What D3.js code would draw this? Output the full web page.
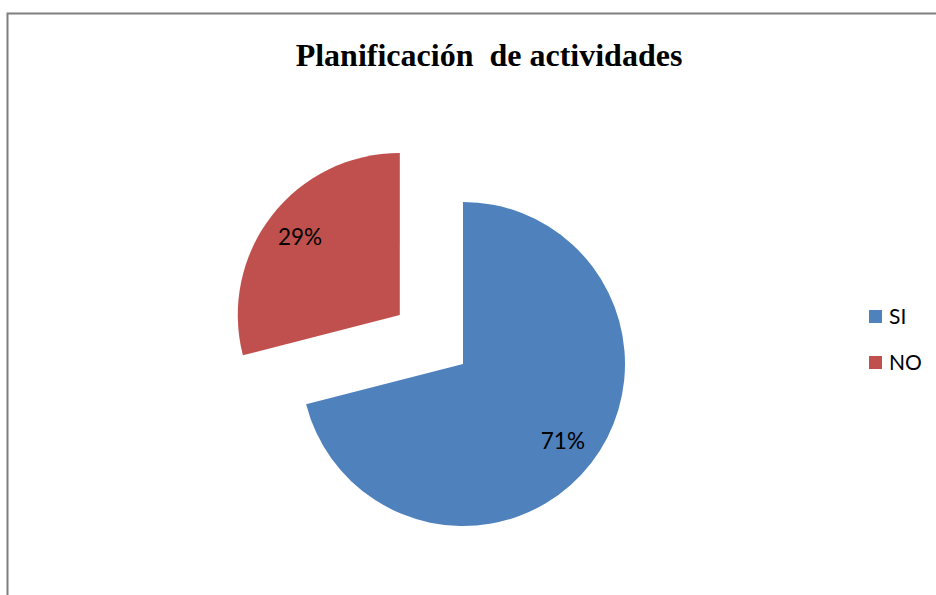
<!DOCTYPE html>
<html>
<head>
<meta charset="utf-8">
<script src="https://cdn.jsdelivr.net/npm/d3@7"></script>
<style>
	body { margin: 0; background: #fff; }
</style>
</head>
<body>
<div id="chart"></div>
<script>
const categories = ["SI", "NO"];
const values = [71, 29];
const colors = ["#4F81BD", "#C0504D"];
const exploded = [0, 1];

const width = 936,
	height = 595;

const center = { x: 463, y: 364 },
	radius = 162,
	explodeDist = 80;

const svg = d3
	.select("#chart")
	.append("svg")
	.attr("width", width)
	.attr("height", height);

// chart frame (runs off the right and bottom of the picture)
svg
	.append("rect")
	.attr("x", 7.5)
	.attr("y", 13.5)
	.attr("width", width + 20)
	.attr("height", height + 20)
	.style("fill", "none")
	.style("stroke", "#7f7f7f")
	.style("stroke-width", 2);

svg
	.append("text")
	.attr("x", 489)
	.attr("y", 66)
	.attr("text-anchor", "middle")
	.style("font-family", "'Liberation Serif', 'Times New Roman', serif")
	.style("font-weight", "bold")
	.style("font-size", "32px")
	.style("white-space", "pre")
	.attr("xml:space", "preserve")
	.text("Planificación  de actividades");

const data = categories.map((c, i) => ({
	cat: c,
	value: values[i],
	color: colors[i],
	explode: exploded[i],
}));

const pie = d3
	.pie()
	.sort(null)
	.value((d) => d.value);

const arc = d3.arc().innerRadius(0).outerRadius(radius);
const labelArc = d3
	.arc()
	.innerRadius(radius * 0.78)
	.outerRadius(radius * 0.78);

const g = svg
	.append("g")
	.attr("transform", `translate(${center.x},${center.y})`);

const slices = g
	.selectAll("g.slice")
	.data(pie(data))
	.enter()
	.append("g")
	.attr("class", "slice")
	.attr("transform", function (d) {
		const mid = (d.startAngle + d.endAngle) / 2;
		const k = d.data.explode * explodeDist;
		return `translate(${Math.sin(mid) * k},${-Math.cos(mid) * k})`;
	});

slices
	.append("path")
	.attr("d", arc)
	.style("fill", (d) => d.data.color);

slices
	.append("text")
	.attr("transform", (d) => `translate(${labelArc.centroid(d)})`)
	.attr("text-anchor", "middle")
	.attr("dy", "0.35em")
	.style("font-family", "Lato, 'Open Sans', sans-serif")
	.style("font-size", "22.5px")
	.text((d) => d.data.value + "%");

// legend
const legend = svg
	.selectAll("g.legend")
	.data(data)
	.enter()
	.append("g")
	.attr("class", "legend")
	.attr("transform", (d, i) => `translate(869, ${310 + i * 46})`);

legend
	.append("rect")
	.attr("width", 13)
	.attr("height", 13)
	.style("fill", (d) => d.color);

legend
	.append("text")
	.attr("x", 20)
	.attr("y", 6.5)
	.attr("dy", "0.35em")
	.style("font-family", "Lato, 'Open Sans', sans-serif")
	.style("font-size", "21px")
	.text((d) => d.cat);
</script>
</body>
</html>
